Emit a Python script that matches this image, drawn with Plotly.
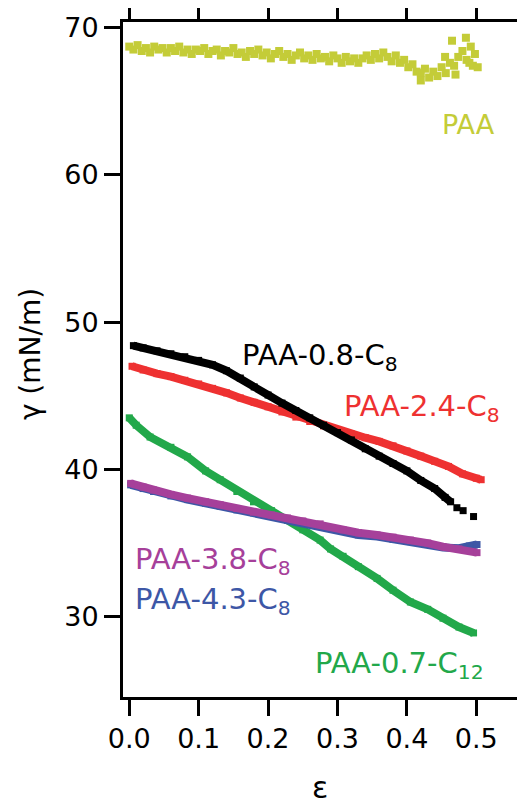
import plotly.graph_objects as go

# ---------------- data ----------------
paa_x = [0.000, 0.006, 0.012, 0.018, 0.024, 0.030, 0.036, 0.042, 0.048, 0.054,
         0.060, 0.066, 0.072, 0.078, 0.084, 0.090, 0.096, 0.102, 0.108, 0.114,
         0.120, 0.126, 0.132, 0.138, 0.144, 0.150, 0.156, 0.162, 0.168, 0.174,
         0.180, 0.186, 0.192, 0.198, 0.204, 0.210, 0.216, 0.222, 0.228, 0.234,
         0.240, 0.246, 0.252, 0.258, 0.264, 0.270, 0.276, 0.282, 0.288, 0.294,
         0.300, 0.306, 0.312, 0.318, 0.324, 0.330, 0.336, 0.342, 0.348, 0.354,
         0.360, 0.366, 0.372, 0.378, 0.384, 0.390, 0.396, 0.402, 0.408, 0.414,
         0.420, 0.426, 0.432, 0.438, 0.444, 0.450, 0.456, 0.462, 0.468, 0.474,
         0.480, 0.486, 0.492, 0.498,
         0.465, 0.485, 0.470, 0.490, 0.495, 0.502, 0.420, 0.455]
paa_y = [68.7, 68.5, 68.8, 68.4, 68.6, 68.3, 68.7, 68.5, 68.6, 68.3,
         68.6, 68.4, 68.7, 68.3, 68.5, 68.2, 68.5, 68.4, 68.6, 68.2,
         68.4, 68.5, 68.1, 68.4, 68.3, 68.6, 68.2, 68.3, 68.0, 68.4,
         68.2, 68.5, 68.1, 68.3, 67.9, 68.2, 68.4, 68.0, 68.2, 67.8,
         68.1, 68.3, 67.9, 68.1, 67.8, 68.2, 67.9, 68.0, 67.7, 68.1,
         67.9, 67.6, 68.0, 67.7, 67.9, 67.6, 67.9, 68.1, 67.8, 68.2,
         67.9, 68.3, 68.0, 67.7, 68.1, 67.6, 67.8, 67.3, 67.5, 67.0,
         66.9, 67.2, 66.6, 67.0, 66.7, 67.3, 66.9, 67.6, 67.4, 68.0,
         68.4, 67.8, 68.7, 68.2,
         69.1, 69.3, 66.8, 67.6, 67.4, 67.3, 66.4, 68.0]

c08_x = [0.006, 0.02, 0.04, 0.06, 0.08, 0.10, 0.12, 0.14, 0.16, 0.18,
         0.20, 0.22, 0.24, 0.26, 0.28, 0.30, 0.32, 0.34, 0.36, 0.38,
         0.40, 0.42, 0.44, 0.455, 0.463, 0.472, 0.481, 0.496]
c08_y = [48.4, 48.25, 48.05, 47.85, 47.65, 47.4, 47.1, 46.7, 46.2, 45.6,
         45.05, 44.5, 44.0, 43.5, 43.0, 42.5, 42.0, 41.4, 40.9, 40.4,
         39.9, 39.25, 38.7, 38.1, 37.8, 37.4, 37.2, 36.8]

c24_x = [0.004, 0.02, 0.04, 0.06, 0.08, 0.10, 0.12, 0.14, 0.16, 0.18,
         0.20, 0.22, 0.24, 0.26, 0.28, 0.30, 0.32, 0.34, 0.36, 0.38,
         0.40, 0.42, 0.44, 0.46, 0.48, 0.50, 0.507]
c24_y = [47.0, 46.75, 46.5, 46.3, 46.05, 45.8, 45.5, 45.2, 44.85, 44.55,
         44.25, 43.9, 43.55, 43.25, 42.95, 42.65, 42.4, 42.15, 41.9, 41.6,
         41.25, 40.9, 40.55, 40.2, 39.7, 39.4, 39.3]

c07_x = [0.0, 0.01, 0.03, 0.06, 0.084, 0.11, 0.131, 0.155, 0.179, 0.205,
         0.228, 0.25, 0.275, 0.29, 0.308, 0.33, 0.357, 0.38, 0.405, 0.43,
         0.452, 0.475, 0.496]
c07_y = [43.5, 43.0, 42.2, 41.5, 40.85, 39.9, 39.3, 38.5, 37.8, 37.2,
         36.55, 35.9, 35.2, 34.6, 34.1, 33.4, 32.6, 31.8, 31.0, 30.5,
         29.9, 29.3, 28.9]

c38_x = [0.002, 0.02, 0.035, 0.06, 0.084, 0.11, 0.131, 0.155, 0.179, 0.205,
         0.228, 0.25, 0.275, 0.308, 0.33, 0.357, 0.38, 0.405, 0.43, 0.452,
         0.475, 0.501]
c38_y = [39.05, 38.8, 38.6, 38.3, 38.05, 37.8, 37.6, 37.35, 37.1, 36.9,
         36.7, 36.5, 36.3, 35.9, 35.7, 35.55, 35.4, 35.2, 35.0, 34.75,
         34.6, 34.35]

c43_x = [0.002, 0.02, 0.035, 0.06, 0.084, 0.11, 0.131, 0.155, 0.179, 0.205,
         0.228, 0.25, 0.275, 0.308, 0.33, 0.357, 0.38, 0.405, 0.43, 0.452,
         0.475, 0.49, 0.501]
c43_y = [38.95, 38.7, 38.5, 38.2, 37.95, 37.7, 37.5, 37.25, 37.05, 36.85,
         36.6, 36.45, 36.2, 35.85, 35.55, 35.45, 35.25, 35.1, 34.9, 34.7,
         34.65, 34.8, 34.9]

x_ticks = [0.0, 0.1, 0.2, 0.3, 0.4, 0.5]
x_tick_labels = ["0.0", "0.1", "0.2", "0.3", "0.4", "0.5"]
y_ticks = [30, 40, 50, 60, 70]
y_tick_labels = ["30", "40", "50", "60", "70"]

# ---------------- styles ----------------
YEL = "#c4cc38"
RED = "#ee3131"
BLK = "#000000"
GRN = "#22a84a"
PUR = "#a6409a"
BLU = "#3d57a6"
FONT = "DejaVu Sans"

fig = go.Figure()

def band(x, y, color, name):
    fig.add_trace(go.Scatter(
        x=x, y=y, mode="lines+markers", name=name,
        line=dict(color=color, width=8),
        marker=dict(symbol="square", size=7, color=color),
        showlegend=False, hoverinfo="skip"))

band(c07_x, c07_y, GRN, "PAA-0.7-C12")
band(c43_x, c43_y, BLU, "PAA-4.3-C8")
band(c38_x, c38_y, PUR, "PAA-3.8-C8")
band(c24_x, c24_y, RED, "PAA-2.4-C8")
band(c08_x[:-3], c08_y[:-3], BLK, "PAA-0.8-C8")
fig.add_trace(go.Scatter(
    x=c08_x[-3:], y=c08_y[-3:], mode="markers",
    marker=dict(symbol="square", size=7, color=BLK),
    showlegend=False, hoverinfo="skip"))
fig.add_trace(go.Scatter(
    x=paa_x, y=paa_y, mode="markers",
    marker=dict(symbol="square", size=8, color=YEL),
    showlegend=False, hoverinfo="skip"))

labels = [
    ("PAA", 0.489, 63.43, YEL, "center", 27),
    ("PAA-0.8-C<sub>8</sub>", 0.160, 47.6, BLK, "left", 29),
    ("PAA-2.4-C<sub>8</sub>", 0.307, 44.2, RED, "left", 29),
    ("PAA-3.8-C<sub>8</sub>", 0.006, 33.8, PUR, "left", 29),
    ("PAA-4.3-C<sub>8</sub>", 0.006, 31.1, BLU, "left", 29),
    ("PAA-0.7-C<sub>12</sub>", 0.265, 26.7, GRN, "left", 29),
]
for txt, x, y, col, anc, sz in labels:
    fig.add_annotation(x=x, y=y, xref="x", yref="y", text=txt, showarrow=False,
                       xanchor=anc, yanchor="middle",
                       font=dict(family=FONT, size=sz, color=col))

# axis titles
fig.add_annotation(x=0.5, y=0, xref="paper", yref="paper", text="ε",
                   showarrow=False, xanchor="center", yanchor="middle",
                   yshift=-90, font=dict(family=FONT, size=30, color="black"))
fig.add_annotation(x=0, y=0.508, xref="paper", yref="paper", text="γ (mN/m)",
                   showarrow=False, xanchor="center", yanchor="middle",
                   textangle=-90, xshift=-93,
                   font=dict(family=FONT, size=28, color="black"))

axis_common = dict(showline=True, linecolor="black", linewidth=3, mirror="ticks",
                   ticks="outside", ticklen=16, tickwidth=3, tickcolor="black",
                   showgrid=False, zeroline=False, automargin=False,
                   tickfont=dict(family=FONT, size=27, color="black"))

fig.update_xaxes(range=[-0.009, 0.5586], tickvals=x_ticks, ticktext=x_tick_labels,
                 **axis_common)
fig.update_yaxes(range=[24.55, 70.37], tickvals=y_ticks, ticktext=y_tick_labels,
                 **axis_common)

# the page body has an 8px margin, so the figure is offset by 8px
fig.update_layout(width=517, height=796,
                  margin=dict(l=115, r=8, t=14, b=107, autoexpand=False),
                  plot_bgcolor="white", paper_bgcolor="white",
                  showlegend=False)

fig.write_html("out.html")
